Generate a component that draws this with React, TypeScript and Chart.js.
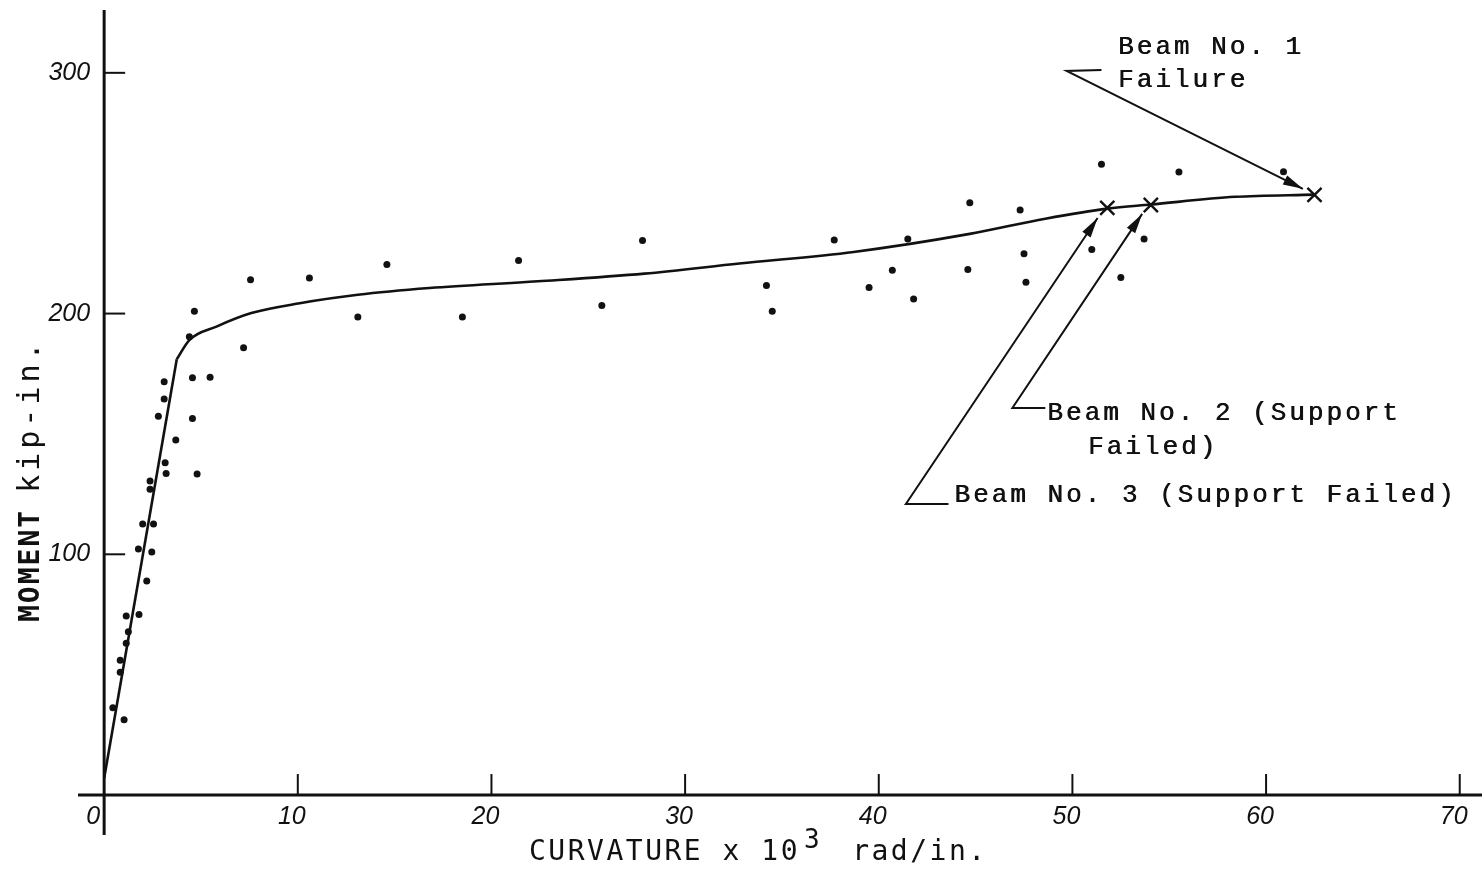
import React, { useEffect, useRef } from "react";
import { Chart, registerables } from "chart.js";

Chart.register(...registerables);

// ---- axis ticks ----
const xTickValues = [0, 10, 20, 30, 40, 50, 60, 70];
const xTickLabels = ["0", "10", "20", "30", "40", "50", "60", "70"];
const yTickValues = [100, 200, 300];
const yTickLabels = ["100", "200", "300"];

// ---- test points (curvature x10^3 rad/in, moment kip-in) ----
const dotX = [
  0.45, 1.03, 0.83, 0.83, 1.14, 1.25, 1.14, 1.8, 2.2, 1.77, 2.46, 1.99, 2.55, 2.37, 2.37,
  3.15, 3.2, 4.8, 3.7, 2.8, 4.56, 3.1, 3.1, 4.56, 5.47, 4.4, 4.66, 7.2,
  7.56, 10.6, 13.1, 14.6, 18.5, 21.4, 25.7, 27.8,
  34.2, 34.5, 37.7, 39.5, 40.7, 41.5, 41.8, 44.6, 44.7, 47.3, 47.5, 47.6, 51.0, 51.5,
  52.5, 53.7, 55.5, 60.9,
];
const dotY = [
  36.3, 31.3, 51, 56, 63, 67.8, 74.4, 75, 88.9, 102.2, 101, 112.6, 112.6, 127, 130.4,
  138, 133.6, 133.4, 147.5, 157.3, 156.4, 164.5, 171.7, 173.3, 173.5, 190.4, 201, 185.8,
  214, 214.8, 198.6, 220.4, 198.6, 222, 203.3, 230.3,
  211.7, 201, 230.6, 210.8, 218, 231, 206, 218.3, 246, 243, 224.8, 213, 226.6, 262,
  215, 231, 258.8, 258.9,
];

// ---- fitted curve ----
const elasticX = [0, 3.75];
const elasticY = [7, 181];
const plasticX = [3.75, 4.4, 5.8, 7.6, 10.1, 13.1, 16.8, 22.4, 27.9, 32.8, 38.7, 44.7, 48.6, 51.8, 54.05, 58.4, 62.5];
const plasticY = [181, 189, 194.6, 200.2, 204.3, 207.8, 210.6, 213.4, 216.6, 220.8, 225.6, 233.1, 239.4, 243.6, 245.3, 248.5, 249.4];

// ---- failure points ----
const failX = [51.8, 54.05, 62.5];
const failY = [243.9, 245.1, 249.3];

// ---- titles ----
const xTitleMain = "CURVATURE x 10";
const xTitleSup = "3";
const xTitleUnit = "rad/in.";
const yTitleMain = "MOMENT";
const yTitleUnit = "kip-in.";

// ---- annotations (text anchored in data coordinates) ----
const noteTexts = ["Beam No. 1", "Failure", "Beam No. 2 (Support", "Failed)", "Beam No. 3 (Support Failed)"];
const noteX = [52.35, 52.35, 48.7, 50.8, 43.9];
const noteY = [310.8, 297, 158.7, 144.6, 124.6];

// leader polylines: last point is arrow tip
const leader1X = [51.5, 49.7, 61.9];
const leader1Y = [301.2, 300.8, 251.8];
const leader2X = [48.6, 46.9, 53.6];
const leader2Y = [160.8, 160.8, 241.4];
const leader3X = [43.6, 41.4, 51.3];
const leader3Y = [120.9, 120.9, 239.7];

const toPts = (xs: number[], ys: number[]) => xs.map((x, i) => ({ x, y: ys[i] }));

const INK = "#111";

const drawPlugin = {
  id: "paperDrawing",
  beforeDatasetsDraw(chart: any) {
    const { ctx } = chart;
    const xs = chart.scales.x;
    const ys = chart.scales.y;
    const x0 = xs.getPixelForValue(0);
    const y0 = ys.getPixelForValue(0);
    ctx.save();
    ctx.strokeStyle = INK;
    ctx.fillStyle = INK;
    ctx.lineCap = "butt";
    // axes
    ctx.lineWidth = 3;
    ctx.beginPath();
    ctx.moveTo(x0, ys.getPixelForValue(ys.max));
    ctx.lineTo(x0, ys.getPixelForValue(ys.min));
    ctx.stroke();
    ctx.beginPath();
    ctx.moveTo(xs.getPixelForValue(xs.min), y0);
    ctx.lineTo(xs.getPixelForValue(xs.max), y0);
    ctx.stroke();
    // tick marks (inside)
    ctx.lineWidth = 2;
    xTickValues.forEach((v) => {
      if (v === 0) return;
      const px = xs.getPixelForValue(v);
      ctx.beginPath();
      ctx.moveTo(px, y0);
      ctx.lineTo(px, y0 - 21);
      ctx.stroke();
    });
    yTickValues.forEach((v) => {
      const py = ys.getPixelForValue(v);
      ctx.beginPath();
      ctx.moveTo(x0, py);
      ctx.lineTo(x0 + 21, py);
      ctx.stroke();
    });
    // tick labels
    ctx.font = "italic 25px 'Liberation Sans'";
    ctx.textBaseline = "middle";
    ctx.textAlign = "center";
    xTickValues.forEach((v, i) => {
      const px = xs.getPixelForValue(v);
      const off = v === 0 ? -11 : -6;
      ctx.fillText(xTickLabels[i], px + off, y0 + 22);
    });
    ctx.textAlign = "right";
    yTickValues.forEach((v, i) => {
      const py = ys.getPixelForValue(v);
      ctx.fillText(yTickLabels[i], x0 - 14, py);
    });

    // x title
    (ctx as any).letterSpacing = "2.5px";
    ctx.textAlign = "left";
    ctx.textBaseline = "alphabetic";
    ctx.font = "28px 'DejaVu Sans Mono'";
    let tx = 529;
    const tb = 860;
    ctx.fillText(xTitleMain, tx, tb);
    tx += ctx.measureText(xTitleMain).width + 4;
    ctx.font = "26px 'DejaVu Sans Mono'";
    ctx.fillText(xTitleSup, tx, tb - 12);
    tx += ctx.measureText(xTitleSup).width + 30;
    ctx.font = "28px 'DejaVu Sans Mono'";
    ctx.fillText(xTitleUnit, tx, tb);

    // y title (rotated)
    ctx.save();
    ctx.translate(39, 622);
    ctx.rotate(-Math.PI / 2);
    ctx.font = "bold 28px 'DejaVu Sans Mono'";
    (ctx as any).letterSpacing = "2px";
    ctx.fillText(yTitleMain, 0, 0);
    const w = ctx.measureText(yTitleMain).width;
    ctx.font = "30px 'DejaVu Sans Mono'";
    (ctx as any).letterSpacing = "4px";
    ctx.fillText(yTitleUnit, w + 16, 0);
    ctx.restore();
    (ctx as any).letterSpacing = "0px";
    ctx.restore();
  },
  afterDatasetsDraw(chart: any) {
    const { ctx } = chart;
    const xs = chart.scales.x;
    const ys = chart.scales.y;
    ctx.save();
    ctx.strokeStyle = INK;
    ctx.fillStyle = INK;
    // notes
    ctx.font = "26px 'Liberation Mono'";
    (ctx as any).letterSpacing = "3px";
    ctx.textAlign = "left";
    ctx.textBaseline = "middle";
    noteTexts.forEach((t, i) => {
      const px = xs.getPixelForValue(noteX[i]);
      const py = ys.getPixelForValue(noteY[i]);
      ctx.fillText(t, px, py);
      ctx.fillText(t, px + 0.6, py);
    });
    (ctx as any).letterSpacing = "0px";
    // leaders
    const leaders = [
      [leader1X, leader1Y],
      [leader2X, leader2Y],
      [leader3X, leader3Y],
    ];
    ctx.lineWidth = 2;
    leaders.forEach(([lx, ly]) => {
      const px = lx.map((v: number) => xs.getPixelForValue(v));
      const py = ly.map((v: number) => ys.getPixelForValue(v));
      ctx.beginPath();
      ctx.moveTo(px[0], py[0]);
      for (let k = 1; k < px.length; k++) ctx.lineTo(px[k], py[k]);
      ctx.stroke();
      const n = px.length - 1;
      const ang = Math.atan2(py[n] - py[n - 1], px[n] - px[n - 1]);
      const len = 20;
      const half = 5;
      const bx = px[n] - len * Math.cos(ang);
      const by = py[n] - len * Math.sin(ang);
      ctx.beginPath();
      ctx.moveTo(px[n], py[n]);
      ctx.lineTo(bx + half * Math.sin(ang), by - half * Math.cos(ang));
      ctx.lineTo(bx - half * Math.sin(ang), by + half * Math.cos(ang));
      ctx.closePath();
      ctx.fill();
    });
    ctx.restore();
  },
};

export default function App() {
  const ref = useRef<HTMLCanvasElement | null>(null);
  useEffect(() => {
    document.documentElement.style.overflow = "hidden";
    document.body.style.margin = "0";
    if (!ref.current) return;
    const chart = new Chart(ref.current, {
      type: "scatter",
      data: {
        datasets: [
          {
            label: "Elastic",
            data: toPts(elasticX, elasticY),
            showLine: true,
            borderColor: INK,
            borderWidth: 2.6,
            pointRadius: 0,
          },
          {
            label: "Curve",
            data: toPts(plasticX, plasticY),
            showLine: true,
            borderColor: INK,
            borderWidth: 2.6,
            pointRadius: 0,
            cubicInterpolationMode: "monotone",
          },
          {
            label: "Tests",
            data: toPts(dotX, dotY),
            backgroundColor: INK,
            borderWidth: 0,
            pointRadius: 3.5,
          },
          {
            label: "Failure",
            data: toPts(failX, failY),
            pointStyle: "crossRot",
            pointRadius: 10,
            borderColor: INK,
            borderWidth: 2.4,
            backgroundColor: INK,
          },
        ],
      } as any,
      options: {
        animation: false,
        responsive: false,
        devicePixelRatio: 1,
        layout: { autoPadding: false, padding: { left: 78, right: 0, top: 10, bottom: 35 } },
        plugins: { legend: { display: false }, tooltip: { enabled: false } },
        scales: {
          x: { type: "linear", min: -1.35, max: 71.15, display: false },
          y: { type: "linear", min: -16.6, max: 326.1, display: false },
        },
      } as any,
      plugins: [drawPlugin],
    });
    return () => chart.destroy();
  }, []);
  return (
    <div style={{ position: "absolute", left: 0, top: 0, width: 1482, height: 870, overflow: "hidden", background: "#fff" }}>
      <canvas ref={ref} width={1482} height={870} style={{ display: "block", width: 1482, height: 870 }} />
    </div>
  );
}
